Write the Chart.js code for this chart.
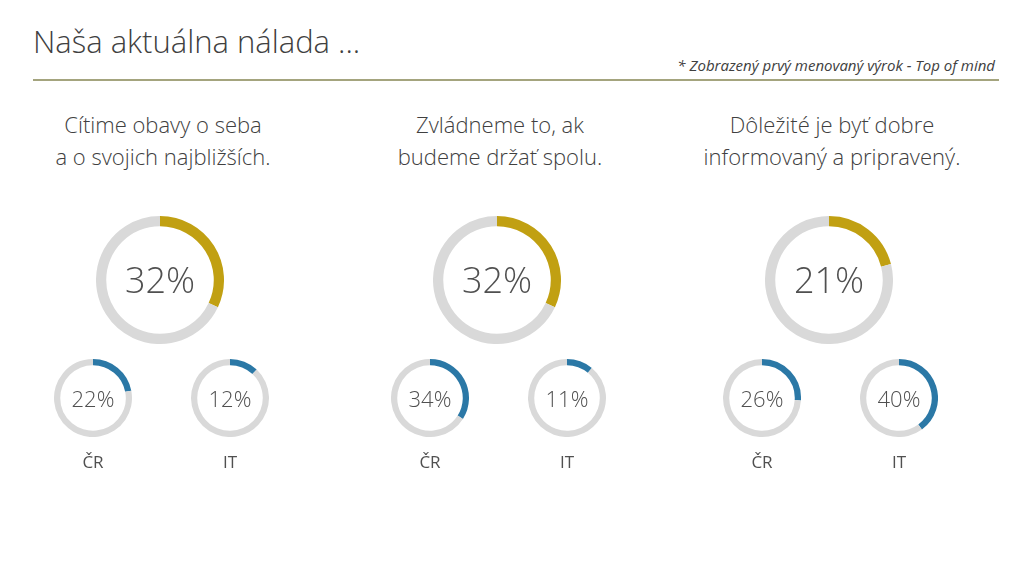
<!DOCTYPE html>
<html><head><meta charset="utf-8">
<script src="https://cdn.jsdelivr.net/npm/chart.js@4"></script>
<style>
body{margin:0;width:1024px;height:565px;background:#fff;font-family:"Open Sans","Noto Sans",sans-serif;color:#404040;position:relative;overflow:hidden}
.abs{position:absolute}
.hdr{position:absolute;width:320px;text-align:center;font-size:22px;line-height:32px;font-weight:300}
.pct{position:absolute;text-align:center;color:#505050;font-weight:300}
.lbl{position:absolute;width:60px;text-align:center;font-size:17px;color:#505050}
</style></head><body>
<div class="abs" style="left:33px;top:20px;font-size:31px;font-weight:300">Naša aktuálna nálada ...</div>
<div class="abs" style="right:29px;top:55px;font-size:15px;font-style:italic">* Zobrazený prvý menovaný výrok - Top of mind</div>
<div class="abs" style="left:33px;top:79px;width:966px;height:2px;background:#a4a47e"></div>
<div id="root"></div>
<script>
const headings=[["Cítime obavy o seba","a o svojich najbližších."],["Zvládneme to, ak","budeme držať spolu."],["Dôležité je byť dobre","informovaný a pripravený."]];
const totalValues=[32,32,21];
const crValues=[22,34,26];
const itValues=[12,11,40];
const subLabels=["ČR","IT"];
const colCenters=[160,497,829];
const root=document.getElementById('root');
function ring(cx,cy,r,val,color,fs){
  const c=document.createElement('canvas');
  c.width=2*r;c.height=2*r;
  c.style.cssText=`position:absolute;left:${cx-r}px;top:${cy-r}px;width:${2*r}px;height:${2*r}px`;
  root.appendChild(c);
  new Chart(c,{type:'doughnut',data:{labels:['a','b'],datasets:[{data:[val,100-val],backgroundColor:[color,'#d9d9d9'],borderWidth:0}]},
   options:{responsive:false,animation:false,cutout:'84%',plugins:{legend:{display:false},tooltip:{enabled:false}}}});
  const t=document.createElement('div');t.className='pct';
  t.style.cssText+=`left:${cx-r}px;width:${2*r}px;top:${cy-fs*0.7}px;font-size:${fs}px;line-height:${fs*1.4}px`;
  t.textContent=val+'%';root.appendChild(t);
}
colCenters.forEach((x,i)=>{
  const h=document.createElement('div');h.className='hdr';h.style.left=(x+3-160)+'px';h.style.top='108px';
  h.innerHTML=headings[i].join('<br>');root.appendChild(h);
  ring(x,280,64,totalValues[i],'#c1a012',36);
  const xs=[x-67,x+70];
  [crValues[i],itValues[i]].forEach((v,j)=>{
    ring(xs[j],398,39,v,'#2b78a6',22);
    const l=document.createElement('div');l.className='lbl';l.style.left=(xs[j]-30)+'px';l.style.top='450px';l.textContent=subLabels[j];root.appendChild(l);
  });
});
</script></body></html>
